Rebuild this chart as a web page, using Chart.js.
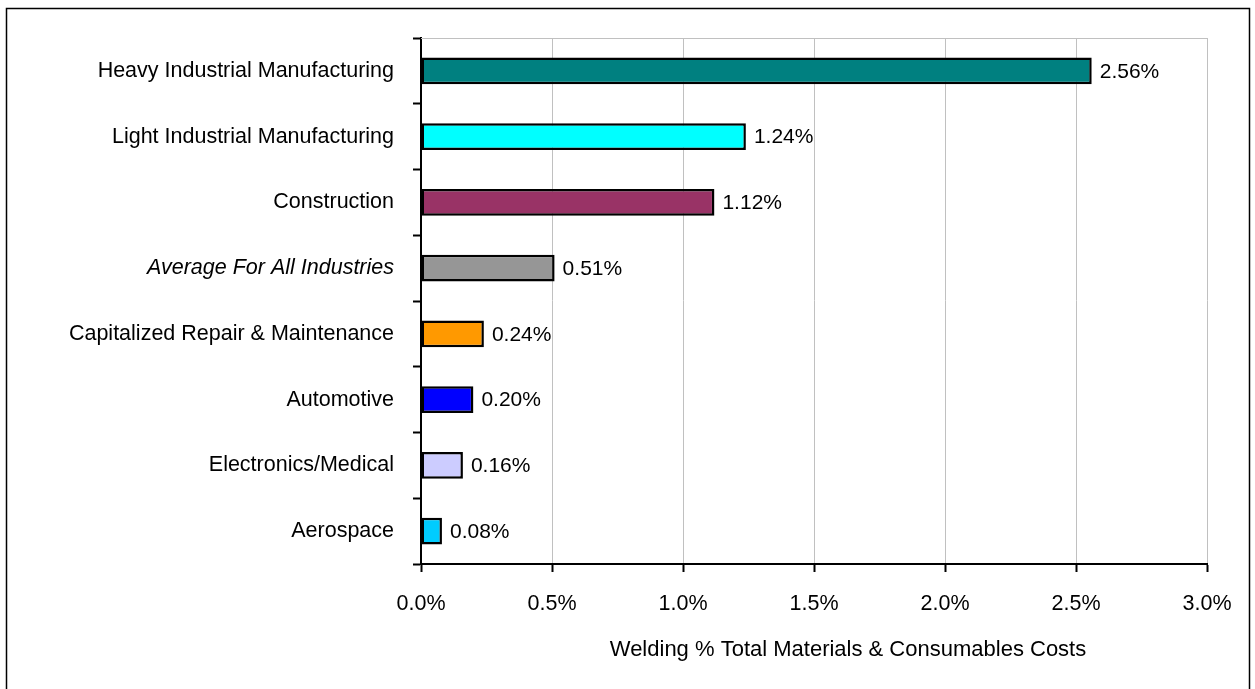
<!DOCTYPE html>
<html>
<head>
<meta charset="utf-8">
<script src="https://cdn.jsdelivr.net/npm/chart.js@4"></script>
<style>
html,body{margin:0;padding:0;background:#fff;}
#wrap{width:1255px;height:689px;position:relative;}
</style>
</head>
<body>
<div id="wrap"><canvas id="c" width="1255" height="689"></canvas></div>
<script>
const categories = ["Heavy Industrial Manufacturing","Light Industrial Manufacturing","Construction","Average For All Industries","Capitalized Repair & Maintenance","Automotive","Electronics/Medical","Aerospace"];
const values = [2.56, 1.24, 1.12, 0.51, 0.24, 0.20, 0.16, 0.08];
const valueLabels = ["2.56%","1.24%","1.12%","0.51%","0.24%","0.20%","0.16%","0.08%"];
const barColors = ["#008080","#00FFFF","#993366","#969696","#FF9900","#0000FF","#CCCCFF","#00CCFF"];
const xTicks = [0, 0.5, 1.0, 1.5, 2.0, 2.5, 3.0];
const axisTitle = "Welding % Total Materials & Consumables Costs";

const FONT = "'Liberation Sans', Arial, sans-serif";
const FS = 21.5;

const framePlugin = {
  id: 'frame',
  beforeDraw(chart) {
    const ctx = chart.ctx;
    ctx.save();
    ctx.fillStyle = '#fff';
    ctx.fillRect(0,0,chart.width,chart.height);
    ctx.strokeStyle = '#000';
    ctx.lineWidth = 1.5;
    ctx.strokeRect(6.5, 8.5, 1243, 700);
    ctx.restore();
  },
  beforeDatasetsDraw(chart) {
    const a = chart.chartArea, ctx = chart.ctx;
    ctx.save();
    ctx.strokeStyle = '#c0c0c0';
    ctx.lineWidth = 1;
    ctx.beginPath();
    ctx.moveTo(a.left, a.top + 0.5);
    ctx.lineTo(a.right, a.top + 0.5);
    ctx.stroke();
    ctx.restore();
  },
  afterDatasetsDraw(chart) {
    const ctx = chart.ctx;
    const meta = chart.getDatasetMeta(0);
    ctx.save();
    ctx.font = "21px " + FONT;
    ctx.fillStyle = '#000';
    ctx.textAlign = 'left';
    ctx.textBaseline = 'middle';
    meta.data.forEach((bar, i) => {
      ctx.fillText(valueLabels[i], bar.x + 8, bar.y + 1);
    });
    ctx.textAlign = 'center';
    ctx.font = "22px " + FONT;
    ctx.fillText(axisTitle, 848, 650);
    ctx.restore();
  }
};

new Chart(document.getElementById('c'), {
  type: 'bar',
  data: {
    labels: categories,
    datasets: [{
      data: values,
      backgroundColor: barColors,
      borderColor: '#000',
      borderWidth: 2.5,
      borderSkipped: false,
      barPercentage: 0.41,
      categoryPercentage: 1.0
    }]
  },
  options: {
    indexAxis: 'y',
    responsive: false,
    animation: false,
    devicePixelRatio: 1,
    layout: { padding: { top: 38, right: 48, left: 0, bottom: 0 } },
    plugins: { legend: { display: false }, tooltip: { enabled: false } },
    scales: {
      x: {
        min: 0, max: 3.0,
        afterBuildTicks(scale) { scale.ticks = xTicks.map(v => ({ value: v })); },
        afterFit(scale) { scale.height = 689 - 564; },
        grid: { color: '#c0c0c0', lineWidth: 1, tickColor: '#000', tickLength: 8, tickWidth: 2 },
        border: { color: '#000', width: 2 },
        ticks: {
          color: '#000',
          font: { family: FONT, size: FS },
          padding: 19,
          maxRotation: 0,
          callback: (v) => Number(v).toFixed(1) + '%'
        }
      },
      y: {
        afterFit(scale) { scale.width = 421; },
        grid: { drawOnChartArea: false, tickColor: '#000', tickLength: 8, tickWidth: 2, offset: true },
        border: { color: '#000', width: 2 },
        ticks: {
          color: '#000',
          padding: 19,
          font: (ctx) => ({ family: FONT, size: FS, style: ctx.index === 3 ? 'italic' : 'normal' })
        }
      }
    }
  },
  plugins: [framePlugin]
});
</script>
</body>
</html>
